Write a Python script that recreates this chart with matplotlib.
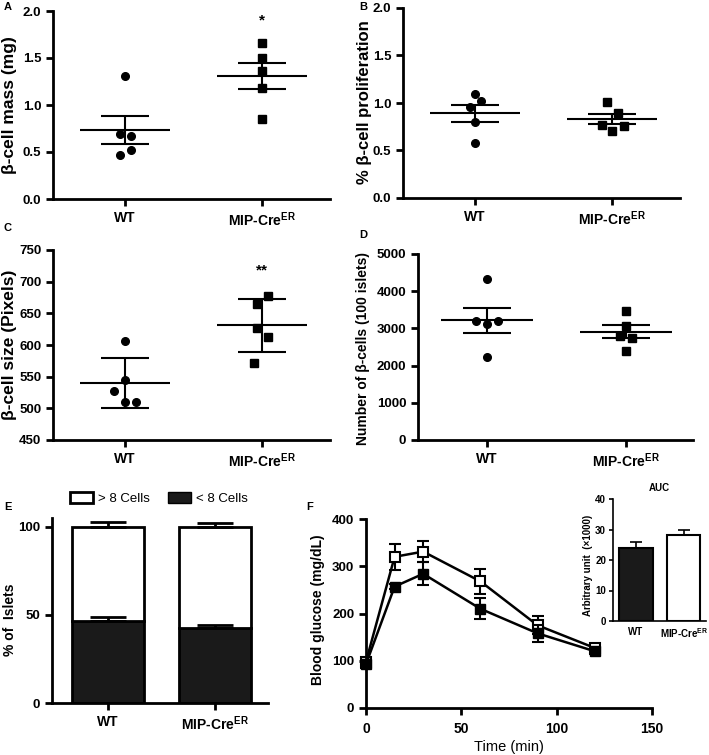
import matplotlib
matplotlib.use("Agg")
import matplotlib.pyplot as plt
from matplotlib.patches import Patch

plt.rcParams["font.family"] = ["Liberation Sans", "DejaVu Sans"]
plt.rcParams["font.weight"] = "bold"
plt.rcParams["axes.titleweight"] = "bold"
plt.rcParams["mathtext.fontset"] = "custom"
plt.rcParams["mathtext.bf"] = "Liberation Sans:bold"
plt.rcParams["mathtext.rm"] = "Liberation Sans:bold"
plt.rcParams["axes.linewidth"] = 2

# ------------------------------------------------------------------
# data
# ------------------------------------------------------------------
groups = ["WT", "MIP-Cre$^{\\mathbf{ER}}$"]

# A: beta-cell mass (mg)
mass_wt = [1.31, 0.69, 0.67, 0.47, 0.52]
mass_mip = [1.66, 1.50, 1.36, 1.18, 0.85]
mass_mean = [0.73, 1.31]
mass_err = [0.15, 0.14]

# B: % beta-cell proliferation
prolif_wt = [1.09, 1.02, 0.96, 0.80, 0.58]
prolif_mip = [1.01, 0.89, 0.765, 0.76, 0.70]
prolif_mean = [0.89, 0.83]
prolif_err = [0.09, 0.055]

# C: beta-cell size (pixels)
size_wt = [607, 545, 527, 510, 510]
size_mip = [677, 665, 627, 612, 572]
size_mean = [540, 631]
size_err = [40, 42]

# D: number of beta-cells per 100 islets
count_wt = [4320, 3200, 3120, 3200, 2220]
count_mip = [3480, 3065, 2805, 2735, 2390]
count_mean = [3215, 2910]
count_err = [330, 180]

# E: islet size distribution (%)
small_pct = [46.8, 42.8]
small_err = [2.2, 1.5]
large_pct = [53.2, 57.2]
large_err = [2.7, 2.1]

# F: glucose tolerance
time_min = [0, 15, 30, 60, 90, 120]
glc_wt = [93, 257, 284, 210, 158, 120]
glc_wt_err = [8, 5, 24, 22, 18, 5]
glc_mip = [98, 320, 331, 268, 175, 127]
glc_mip_err = [8, 27, 23, 26, 19, 6]

auc = [24.0, 28.2]
auc_err = [2.0, 1.6]

# horizontal scatter of the dots (layout only)
mass_wt_dx = [0, -0.04, 0.04, -0.04, 0.04]
mass_mip_dx = [0, 0, 0, 0, 0]
prolif_wt_dx = [0, 0.04, -0.04, 0, 0]
prolif_mip_dx = [-0.04, 0.045, -0.075, 0.085, 0]
size_wt_dx = [0, 0, -0.08, 0, 0.08]
size_mip_dx = [0.04, -0.04, -0.04, 0.04, -0.06]
count_wt_dx = [0, -0.08, 0, 0.08, 0]
count_mip_dx = [0, 0, -0.04, 0.04, 0]

W, H = 709, 755
fig = plt.figure(figsize=(W / 100, H / 100), dpi=100)


def px_axes(left, top, right, bottom):
    ax = fig.add_axes([left / W, 1 - bottom / H, (right - left) / W, (bottom - top) / H])
    ax.spines[["top", "right"]].set_visible(False)
    ax.tick_params(direction="out", length=5, width=2, labelsize=9.5)
    ax.tick_params(axis="x", labelsize=10)
    return ax


def fig_text(x, y, s, **kw):
    fig.text(x / W, 1 - y / H, s, **kw)


def ylabel(x, y, s, size):
    fig_text(x, y, s, rotation=90, ha="center", va="center", fontsize=size)


def dot_panel(ax, wt, mip, mean, err, wt_dx, mip_dx):
    ax.plot([d for d in wt_dx], wt, "o", ms=5.5, color="k", clip_on=False, zorder=3)
    ax.plot([1 + d for d in mip_dx], mip, "s", ms=5.5, color="k", clip_on=False, zorder=3)
    for i in range(2):
        ax.hlines(mean[i], i - 0.33, i + 0.33, color="k", lw=1.5)
    ax.errorbar([0, 1], mean, yerr=err, fmt="none", ecolor="k",
                elinewidth=1.5, capsize=17, capthick=1.5)
    ax.set_xticks([0, 1])
    ax.set_xticklabels(groups)


# ---------------- A ----------------
ax = px_axes(53, 11, 330, 199)
dot_panel(ax, mass_wt, mass_mip, mass_mean, mass_err, mass_wt_dx, mass_mip_dx)
ax.set_xlim(-0.526, 1.496)
ax.set_ylim(0, 2.0)
ax.set_yticks([0, 0.5, 1.0, 1.5, 2.0])
ax.set_yticklabels(["0.0", "0.5", "1.0", "1.5", "2.0"])
ax.text(1, 1.9, "*", ha="center", va="center", fontsize=11)
ylabel(10, 105, "β-cell mass (mg)", 12.5)

# ---------------- B ----------------
ax = px_axes(403, 8, 680, 198)
dot_panel(ax, prolif_wt, prolif_mip, prolif_mean, prolif_err, prolif_wt_dx, prolif_mip_dx)
ax.set_xlim(-0.526, 1.496)
ax.set_ylim(0, 2.0)
ax.set_yticks([0, 0.5, 1.0, 1.5, 2.0])
ax.set_yticklabels(["0.0", "0.5", "1.0", "1.5", "2.0"])
ylabel(365, 102, "% β-cell proliferation", 12)

# ---------------- C ----------------
ax = px_axes(53, 250, 330, 440)
dot_panel(ax, size_wt, size_mip, size_mean, size_err, size_wt_dx, size_mip_dx)
ax.set_xlim(-0.526, 1.496)
ax.set_ylim(450, 750)
ax.set_yticks(range(450, 751, 50))
ax.text(1, 718, "**", ha="center", va="center", fontsize=11)
ylabel(10, 345, "β-cell size (Pixels)", 12.5)

# ---------------- D ----------------
ax = px_axes(418, 254, 693, 440)
dot_panel(ax, count_wt, count_mip, count_mean, count_err, count_wt_dx, count_mip_dx)
ax.set_xlim(-0.496, 1.482)
ax.set_ylim(0, 5000)
ax.set_yticks(range(0, 5001, 1000))
ylabel(363, 348, "Number of β-cells (100 islets)", 10)

# ---------------- E ----------------
ax = px_axes(52, 518, 268, 703)
bw = 0.67
ax.bar([0, 1], small_pct, width=bw, color="#1a1a1a", edgecolor="k", lw=2, zorder=2)
ax.bar([0, 1], large_pct, bottom=small_pct, width=bw, color="white",
       edgecolor="k", lw=2, zorder=2)
ax.errorbar([0, 1], small_pct, yerr=[[0, 0], small_err], fmt="none", ecolor="k",
            elinewidth=2, capsize=13, capthick=2, zorder=3)
tops = [s + l for s, l in zip(small_pct, large_pct)]
ax.errorbar([0, 1], tops, yerr=[[0, 0], large_err], fmt="none", ecolor="k",
            elinewidth=2, capsize=13, capthick=2, zorder=3)
ax.set_xlim(-0.523, 1.495)
ax.set_ylim(0, 105)
ax.set_yticks([0, 50, 100])
ax.set_xticks([0, 1])
ax.set_xticklabels(groups)
handles = [Patch(facecolor="white", edgecolor="k", lw=2),
           Patch(facecolor="#1a1a1a", edgecolor="k", lw=1)]
ax.legend(handles, ["> 8 Cells", "< 8 Cells"], ncol=2, frameon=False,
          loc="lower left", bbox_to_anchor=(0.06, 1.04), handlelength=1.7,
          handleheight=0.9, columnspacing=1.4, handletextpad=0.4,
          prop={"weight": "normal", "size": 9.5}, borderaxespad=0)
ylabel(10, 620, "% of  Islets", 10)

# ---------------- F ----------------
ax = px_axes(366, 519, 652, 708)
ax.errorbar(time_min, glc_wt, yerr=glc_wt_err, fmt="-s", color="k", mfc="k", mec="k",
            ms=6.5, lw=1.8, elinewidth=1.5, capsize=4, capthick=1.5, clip_on=False, zorder=3)
ax.errorbar(time_min, glc_mip, yerr=glc_mip_err, fmt="-s", color="k", mfc="white", mec="k",
            mew=1.5, ms=6.5, lw=1.8, elinewidth=1.5, capsize=4, capthick=1.5,
            clip_on=False, zorder=2)
ax.set_xlim(0, 150)
ax.set_ylim(0, 400)
ax.set_xticks([0, 50, 100, 150])
ax.set_yticks([0, 100, 200, 300, 400])
ax.tick_params(axis="x", pad=5)
ax.set_xlabel("Time (min)", fontsize=10.5, labelpad=3)
ylabel(318, 610, "Blood glucose (mg/dL)", 10)

# inset: AUC
ax = px_axes(613, 499, 706, 621)
ax.spines[["left", "bottom"]].set_linewidth(1.2)
ax.bar([0, 1], auc, width=0.69, color=["#1a1a1a", "white"], edgecolor="k", lw=1.5)
ax.errorbar([0, 1], auc, yerr=[[0, 0], auc_err], fmt="none", ecolor="k",
            elinewidth=1.2, capsize=4.5, capthick=1.2)
ax.set_xlim(-0.48, 1.46)
ax.set_ylim(0, 40)
ax.set_yticks([0, 10, 20, 30, 40])
ax.set_xticks([0, 1])
ax.set_xticklabels(groups)
ax.tick_params(axis="y", length=3, width=1.2, labelsize=7, pad=2)
ax.tick_params(axis="x", length=0, labelsize=7, pad=4)
ax.set_title("AUC", fontsize=7, pad=6)
ylabel(588, 565, "Arbitrary unit  (×1000)", 7)

# panel letters
for letter, x, y in [("A", 8, 7), ("B", 363, 7), ("C", 8, 228),
                     ("D", 363, 235), ("E", 8, 507), ("F", 310, 507)]:
    fig_text(x, y, letter, ha="center", va="center", fontsize=8)

fig.savefig("out.png", dpi=100)
